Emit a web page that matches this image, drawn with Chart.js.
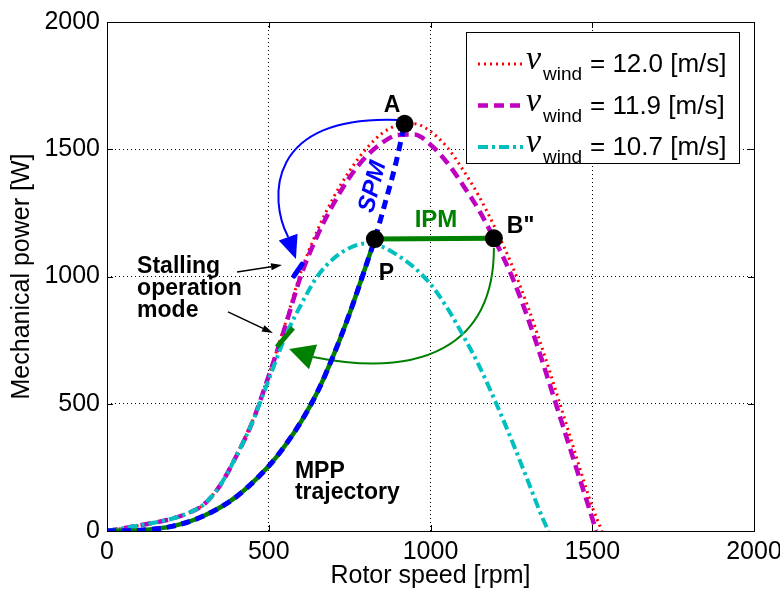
<!DOCTYPE html>
<html>
<head>
<meta charset="utf-8">
<script src="https://cdn.jsdelivr.net/npm/chart.js@4.4.1/dist/chart.umd.min.js"></script>
<style>
html,body{margin:0;padding:0;background:#fff;overflow:hidden}
canvas{display:block}
</style>
</head>
<body>
<canvas id="chart" width="780" height="589"></canvas>
<script>
// ---------------- data ----------------
const xTicks = [0, 500, 1000, 1500, 2000];
const yTicks = [0, 500, 1000, 1500, 2000];
const windSpeeds = [12.0, 11.9, 10.7];

// v_wind = 12.0 m/s
const speed120 = [0,100,200,250,300,350,400,450,500,550,600,650,700,750,800,850,900,950,1000,1050,1100,1150,1200,1250,1300,1350,1400,1450,1500,1530];
const power120 = [0,22,48,70,105,182,300,435,615,810,1020,1180,1310,1415,1500,1562,1595,1600,1570,1510,1420,1315,1190,1050,885,700,500,295,95,0];
// v_wind = 11.9 m/s
const speed119 = [0,100,200,250,300,350,400,450,500,550,600,650,700,750,800,850,900,950,1000,1050,1100,1150,1200,1250,1300,1350,1400,1450,1500,1512];
const power119 = [0,22,48,70,105,180,295,430,610,800,1005,1160,1285,1390,1470,1525,1556,1558,1518,1450,1360,1260,1140,1005,840,650,450,250,50,0];
// v_wind = 10.7 m/s
const speed107 = [0,100,200,250,300,350,400,450,500,550,600,650,700,750,800,850,900,950,1000,1050,1100,1150,1200,1250,1300,1350,1365];
const power107 = [0,22,48,70,105,180,295,430,595,760,890,1000,1070,1112,1130,1117,1082,1035,970,880,770,650,510,360,200,40,0];
// MPP trajectory (green up to P, blue SPM up to A)
const mppSpeed = [0,100,200,300,400,500,550,600,650,700,750,800,828,860,890,920];
const mppPower = [0,3,18,60,135,255,335,430,545,690,855,1040,1147,1290,1430,1600];
// operating points A, P, B''
const markNames = ['A', 'P', 'B"'];
const markSpeed = [920, 828, 1196];
const markPower = [1600, 1147, 1150];

// ---------------- annotation geometry (data coordinates) ----------------
const blueArrowPath = [[906,1615],[490,1640],[500,1301],[560,1155],[584,1069]]; // start, cp1, cp2, end, tip
const greenArrowPath = [[1196,1112],[1196,720],[967,600],[637,684],[563,715]];
const stallPointers = [[[402,1018],[541,1045]], [[374,861],[513,778]]];
const greenStallSeg = [[525,723],[575,798]];
const blueStallSeg = [[578,1002],[603,1049]];

const pts = (xs, ys) => xs.map((x, i) => ({x, y: ys[i]}));
const pIdx = mppSpeed.indexOf(markSpeed[1]);

Chart.defaults.font.family = "'Liberation Sans', Arial, sans-serif";
Chart.defaults.color = '#000';

function arrowHead(ctx, from, tip, color, hw) {
  const dx = tip[0]-from[0], dy = tip[1]-from[1], L = Math.hypot(dx, dy);
  const px = -dy/L, py = dx/L;
  ctx.fillStyle = color;
  ctx.beginPath();
  ctx.moveTo(tip[0], tip[1]);
  ctx.lineTo(from[0] + px*hw/2, from[1] + py*hw/2);
  ctx.lineTo(from[0] - px*hw/2, from[1] - py*hw/2);
  ctx.closePath();
  ctx.fill();
}

const annotPlugin = {
  id: 'annot',
  beforeDatasetsDraw(chart) {
    const ctx = chart.ctx, X = v => chart.scales.x.getPixelForValue(v), Y = v => chart.scales.y.getPixelForValue(v);
    const P = p => [X(p[0]), Y(p[1])];
    ctx.save();
    ctx.setLineDash([]);
    let [s, c1, c2, e, t] = blueArrowPath.map(P);
    ctx.strokeStyle = '#0000ff'; ctx.lineWidth = 2;
    ctx.beginPath(); ctx.moveTo(...s); ctx.bezierCurveTo(...c1, ...c2, ...e); ctx.stroke();
    arrowHead(ctx, e, t, '#0000ff', 20);
    [s, c1, c2, e, t] = greenArrowPath.map(P);
    ctx.strokeStyle = '#008000'; ctx.lineWidth = 2;
    ctx.beginPath(); ctx.moveTo(...s); ctx.bezierCurveTo(...c1, ...c2, ...e); ctx.stroke();
    arrowHead(ctx, e, t, '#008000', 26);
    ctx.restore();
  },
  afterDatasetsDraw(chart) {
    const ctx = chart.ctx, X = v => chart.scales.x.getPixelForValue(v), Y = v => chart.scales.y.getPixelForValue(v);
    const P = p => [X(p[0]), Y(p[1])];
    ctx.save();
    ctx.setLineDash([]);
    ctx.strokeStyle = '#008000'; ctx.lineWidth = 5; ctx.lineCap = 'butt';
    let a = P(greenStallSeg[0]), b = P(greenStallSeg[1]);
    ctx.beginPath(); ctx.moveTo(...a); ctx.lineTo(...b); ctx.stroke();
    ctx.strokeStyle = '#0000ff'; ctx.lineWidth = 5; ctx.lineCap = 'round';
    a = P(blueStallSeg[0]); b = P(blueStallSeg[1]);
    ctx.beginPath(); ctx.moveTo(...a); ctx.lineTo(...b); ctx.stroke();
    ctx.lineCap = 'butt';
    ctx.strokeStyle = '#000'; ctx.lineWidth = 1.5;
    stallPointers.forEach(sp => {
      const s = P(sp[0]), t = P(sp[1]);
      const dx = t[0]-s[0], dy = t[1]-s[1], L = Math.hypot(dx, dy);
      const base = [t[0]-dx/L*11, t[1]-dy/L*11];
      ctx.beginPath(); ctx.moveTo(...s); ctx.lineTo(...base); ctx.stroke();
      arrowHead(ctx, base, t, '#000', 7);
    });
    ctx.fillStyle = '#000';
    ctx.font = "bold 23px 'Liberation Sans', Arial, sans-serif";
    ctx.textBaseline = 'alphabetic';
    ctx.textAlign = 'center';
    ctx.fillText(markNames[0], X(881), Y(1646));
    ctx.fillText(markNames[1], X(864), Y(986));
    ctx.textAlign = 'left';
    ctx.fillText(markNames[2], X(1236), Y(1171));
    ctx.fillText('Stalling', X(93), Y(1014));
    ctx.fillText('operation', X(93), Y(927));
    ctx.fillText('mode', X(93), Y(841));
    ctx.fillText('MPP', X(581), Y(208));
    ctx.fillText('trajectory', X(581), Y(126));
    ctx.fillStyle = '#008000';
    ctx.textAlign = 'center';
    ctx.font = "bold 24px 'Liberation Sans', Arial, sans-serif";
    ctx.fillText('IPM', X(1017), Y(1194));
    ctx.save();
    ctx.translate(X(822), Y(1352));
    ctx.rotate(-75.5 * Math.PI / 180);
    ctx.fillStyle = '#0000ff';
    ctx.font = "italic bold 24px 'Liberation Sans', Arial, sans-serif";
    ctx.textBaseline = 'middle';
    ctx.fillText('SPM', 0, 0);
    ctx.restore();
    ctx.restore();
  },
  afterDraw(chart) {
    const ctx = chart.ctx, ca = chart.chartArea;
    const xs = chart.scales.x, ys = chart.scales.y;
    ctx.save();
    ctx.setLineDash([]);
    ctx.strokeStyle = '#000'; ctx.lineWidth = 1;
    const tl = 6;
    xTicks.forEach(v => {
      const x = Math.round(xs.getPixelForValue(v)) + 0.5;
      ctx.beginPath();
      ctx.moveTo(x, ca.bottom); ctx.lineTo(x, ca.bottom - tl);
      ctx.moveTo(x, ca.top); ctx.lineTo(x, ca.top + tl);
      ctx.stroke();
    });
    yTicks.forEach(v => {
      const y = Math.round(ys.getPixelForValue(v)) + 0.5;
      ctx.beginPath();
      ctx.moveTo(ca.left, y); ctx.lineTo(ca.left + tl, y);
      ctx.moveTo(ca.right, y); ctx.lineTo(ca.right - tl, y);
      ctx.stroke();
    });
    ctx.strokeRect(Math.round(ca.left) + 0.5, Math.round(ca.top) + 0.5, Math.round(ca.right - ca.left), Math.round(ca.bottom - ca.top));
    const lx = 466, ly = 32, lw = 273, lh = 131;
    ctx.fillStyle = '#fff';
    ctx.fillRect(lx, ly, lw, lh);
    ctx.strokeStyle = '#000';
    ctx.strokeRect(lx + 0.5, ly + 0.5, lw, lh);
    const styles = [
      {c: '#ff0000', w: 3, d: [2, 4]},
      {c: '#bf00bf', w: 4.5, d: [10, 6]},
      {c: '#00bfbf', w: 4, d: [10, 4, 3, 4]}
    ];
    windSpeeds.forEach((ws, i) => {
      const cy = 64 + i * 41.5;
      const st = styles[i];
      ctx.strokeStyle = st.c; ctx.lineWidth = st.w; ctx.setLineDash(st.d);
      ctx.beginPath(); ctx.moveTo(478, cy); ctx.lineTo(523, cy); ctx.stroke();
      ctx.setLineDash([]);
      ctx.fillStyle = '#000';
      ctx.textAlign = 'left'; ctx.textBaseline = 'alphabetic';
      ctx.font = "italic 34px 'Liberation Serif', 'Times New Roman', serif";
      ctx.fillText('v', 526, cy + 5);
      ctx.font = "19px 'Liberation Sans', Arial, sans-serif";
      ctx.fillText('wind', 543, cy + 16);
      ctx.font = "26px 'Liberation Sans', Arial, sans-serif";
      ctx.fillText('= ' + ws.toFixed(1) + ' [m/s]', 590, cy + 8);
    });
    ctx.restore();
  }
};

new Chart(document.getElementById('chart'), {
  type: 'line',
  data: {
    datasets: [
      {label: 'points', type: 'scatter', data: pts(markSpeed, markPower), pointRadius: 9, pointBackgroundColor: '#000', pointBorderColor: '#000', pointBorderWidth: 0, showLine: false, order: 0},
      {label: 'SPM / MPP', data: pts(mppSpeed, mppPower), borderColor: '#0000ff', borderWidth: 5, borderDash: [9, 6], pointRadius: 0, cubicInterpolationMode: 'monotone', order: 1},
      {label: 'IPM', data: pts([markSpeed[1], markSpeed[2]], [markPower[1], markPower[2]]), borderColor: '#008000', borderWidth: 5, pointRadius: 0, order: 2},
      {label: 'MPP', data: pts(mppSpeed.slice(0, pIdx + 1), mppPower.slice(0, pIdx + 1)), borderColor: '#008000', borderWidth: 4.5, pointRadius: 0, cubicInterpolationMode: 'monotone', order: 3},
      {label: 'v10.7', data: pts(speed107, power107), borderColor: '#00bfbf', borderWidth: 4, borderDash: [10, 4, 3, 4], pointRadius: 0, cubicInterpolationMode: 'monotone', order: 4},
      {label: 'v11.9', data: pts(speed119, power119), borderColor: '#bf00bf', borderWidth: 4.5, borderDash: [11, 6], pointRadius: 0, cubicInterpolationMode: 'monotone', order: 5},
      {label: 'v12.0', data: pts(speed120, power120), borderColor: '#ff0000', borderWidth: 3, borderDash: [2, 4], pointRadius: 0, cubicInterpolationMode: 'monotone', order: 6}
    ]
  },
  options: {
    responsive: false,
    animation: false,
    devicePixelRatio: 1,
    layout: {padding: {top: 22, right: 26, left: 0, bottom: 0}},
    plugins: {legend: {display: false}, tooltip: {enabled: false}},
    scales: {
      x: {
        type: 'linear', min: 0, max: 2000,
        afterBuildTicks: s => { s.ticks = xTicks.map(v => ({value: v})); },
        afterFit: s => { s.height = 58; s.paddingRight = 0; s.paddingLeft = 0; },
        ticks: {font: {size: 25}, color: '#000', padding: 6, maxRotation: 0, callback: v => String(v)},
        grid: {color: '#000', lineWidth: 1, drawTicks: false},
        border: {display: false, dash: [1, 3]},
        title: {display: true, text: 'Rotor speed [rpm]', font: {size: 25, lineHeight: 1}, color: '#000', padding: {top: 0, bottom: 0}}
      },
      y: {
        type: 'linear', min: 0, max: 2000,
        afterBuildTicks: s => { s.ticks = yTicks.map(v => ({value: v})); },
        afterFit: s => { s.width = 107; s.paddingTop = 0; s.paddingBottom = 0; },
        ticks: {font: {size: 25}, color: '#000', padding: 7, callback: v => String(v)},
        grid: {color: '#000', lineWidth: 1, drawTicks: false},
        border: {display: false, dash: [1, 3]},
        title: {display: true, text: 'Mechanical power [W]', font: {size: 25, lineHeight: 1}, color: '#000', padding: {top: 10, bottom: 0}}
      }
    }
  },
  plugins: [annotPlugin]
});
</script>
</body>
</html>
